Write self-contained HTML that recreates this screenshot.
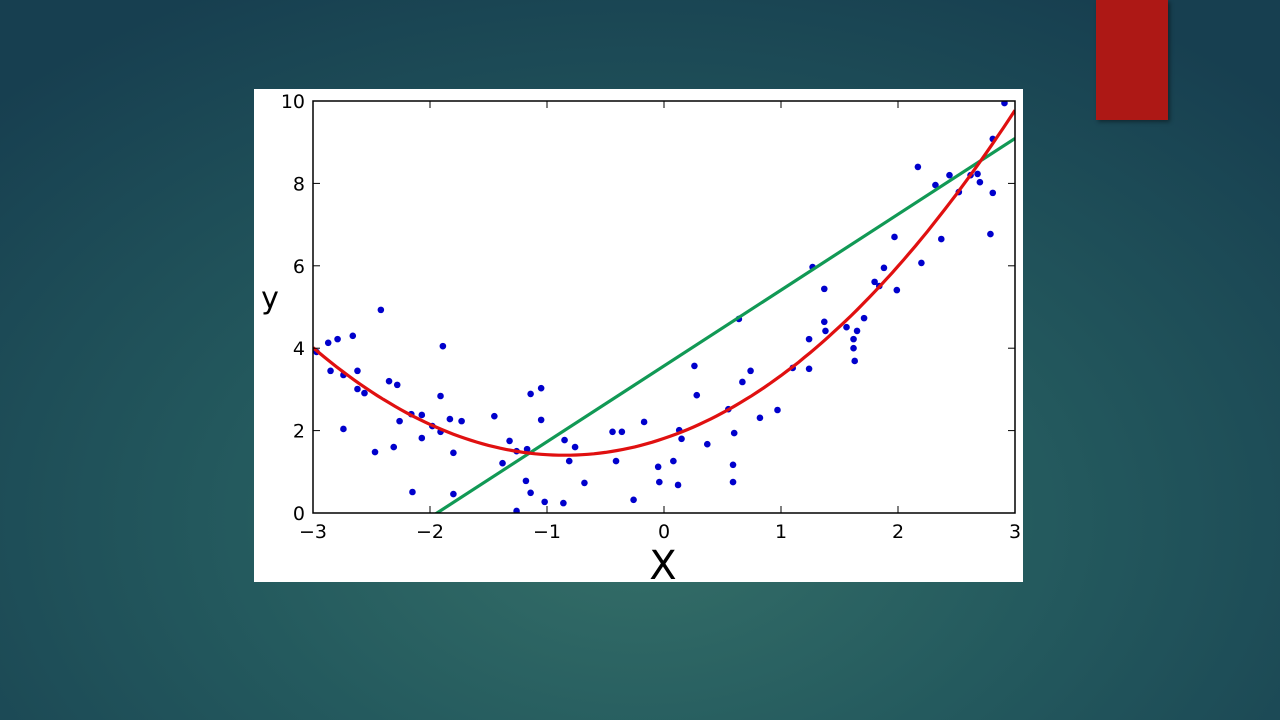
<!DOCTYPE html>
<html><head><meta charset="utf-8">
<style>
html,body{margin:0;padding:0;width:1280px;height:720px;overflow:hidden}
body{background:radial-gradient(ellipse 900px 600px at 640px 520px,#356f68 0%,#245a5e 45%,#173f50 100%);position:relative;font-family:"DejaVu Sans","Liberation Sans",sans-serif}
#redbox{position:absolute;left:1096px;top:0;width:72px;height:120px;background:#ad1815;box-shadow:2px 2px 4px rgba(0,0,0,.4)}
#card{position:absolute;left:254px;top:89px;width:769px;height:493px;background:#fff}
svg{position:absolute;left:0;top:0}
</style></head><body>
<div id="redbox"></div>
<div id="card"></div>
<svg id="chart" width="1280" height="720"></svg>
<script>
const xs=[-2.97,-2.87,-2.85,-2.79,-2.74,-2.74,-2.66,-2.62,-2.62,-2.56,-2.47,-2.42,-2.35,-2.28,-2.31,-2.26,-2.16,-2.15,-2.07,-2.07,-1.98,-1.91,-1.91,-1.89,-1.83,-1.80,-1.80,-1.73,-1.45,-1.38,-1.32,-1.26,-1.17,-1.26,-1.18,-1.14,-1.14,-1.05,-1.05,-1.02,-0.85,-0.76,-0.81,-0.68,-0.86,-0.44,-0.36,-0.41,-0.26,-0.17,-0.05,-0.04,0.08,0.12,0.13,0.15,0.26,0.28,0.37,0.55,0.59,0.59,0.60,0.64,0.67,0.74,0.82,0.97,1.10,1.24,1.24,1.27,1.37,1.37,1.38,1.56,1.62,1.62,1.63,1.65,1.71,1.80,1.84,1.88,1.99,1.97,2.17,2.20,2.32,2.37,2.44,2.52,2.62,2.68,2.70,2.81,2.79,2.81,2.91];
const ys=[3.91,4.13,3.45,4.22,2.04,3.35,4.30,3.45,3.01,2.91,1.48,4.93,3.20,3.11,1.60,2.23,2.40,0.51,2.38,1.82,2.11,1.97,2.84,4.05,2.28,1.46,0.46,2.23,2.35,1.21,1.75,1.50,1.55,0.05,0.78,2.89,0.49,3.03,2.26,0.27,1.77,1.60,1.26,0.73,0.24,1.97,1.97,1.26,0.32,2.21,1.12,0.75,1.26,0.68,2.01,1.80,3.57,2.86,1.67,2.52,1.17,0.75,1.94,4.71,3.18,3.45,2.31,2.50,3.52,4.22,3.50,5.97,5.44,4.64,4.42,4.51,4.22,4.00,3.69,4.42,4.73,5.61,5.51,5.95,5.41,6.70,8.40,6.07,7.96,6.65,8.20,7.79,8.20,8.23,8.03,7.77,6.77,9.08,9.95];
const linCoef=[3.57,1.84];
const quadCoef=[1.81,0.96,0.565];
const xTicks=[-3,-2,-1,0,1,2,3];
const yTicks=[0,2,4,6,8,10];
const xTickLabels=["\u22123","\u22122","\u22121","0","1","2","3"];
const yTickLabels=["0","2","4","6","8","10"];

const L=313,R=1015,T=101,B=513;
const sx=v=>L+(v+3)/6*(R-L);
const sy=v=>B-v/10*(B-T);
const svg=document.getElementById('chart');
const NS='http://www.w3.org/2000/svg';
function mk(tag,attrs){const e=document.createElementNS(NS,tag);for(const k in attrs)e.setAttribute(k,attrs[k]);svg.appendChild(e);return e;}

const clip=document.createElementNS(NS,'clipPath');clip.setAttribute('id','pc');
const cr=document.createElementNS(NS,'rect');cr.setAttribute('x',L);cr.setAttribute('y',T);cr.setAttribute('width',R-L);cr.setAttribute('height',B-T);
clip.appendChild(cr);svg.appendChild(clip);

for(let i=0;i<xs.length;i++){
 const c=mk('circle',{cx:sx(xs[i]),cy:sy(ys[i]),r:3.3,fill:'#0000cc','clip-path':'url(#pc)'});
 
 
}
// linear fit
let x0=-3,x1=3;
const gl=mk('line',{x1:sx(x0),y1:sy(linCoef[0]+linCoef[1]*x0),x2:sx(x1),y2:sy(linCoef[0]+linCoef[1]*x1),stroke:'#119955','stroke-width':3.2,'clip-path':'url(#pc)'});


// quadratic fit
let d='';
for(let i=0;i<=120;i++){const x=-3+6*i/120;const y=quadCoef[0]+quadCoef[1]*x+quadCoef[2]*x*x;d+=(i?'L':'M')+sx(x).toFixed(1)+','+sy(y).toFixed(1);}
const ql=mk('path',{d:d,fill:'none',stroke:'#e01010','stroke-width':3.2,'clip-path':'url(#pc)'});



const fr=mk('rect',{x:L,y:T,width:R-L,height:B-T,fill:'none',stroke:'#000','stroke-width':1.5});



xTicks.forEach((v,i)=>{
 mk('line',{x1:sx(v),y1:B,x2:sx(v),y2:B-7,stroke:'#000','stroke-width':1});
 mk('line',{x1:sx(v),y1:T,x2:sx(v),y2:T+7,stroke:'#000','stroke-width':1});
 const t=mk('text',{x:sx(v),y:B+25,'text-anchor':'middle','font-size':19,fill:'#000'});
 t.textContent=xTickLabels[i];
 
 
});
yTicks.forEach((v,i)=>{
 mk('line',{x1:L,y1:sy(v),x2:L+7,y2:sy(v),stroke:'#000','stroke-width':1});
 mk('line',{x1:R,y1:sy(v),x2:R-7,y2:sy(v),stroke:'#000','stroke-width':1});
 const t=mk('text',{x:L-8,y:sy(v)+7,'text-anchor':'end','font-size':19,fill:'#000'});
 t.textContent=yTickLabels[i];
 
 
});
const xt=mk('text',{x:663,y:579,'text-anchor':'middle','font-size':40,fill:'#000'});
xt.textContent='X';


const yt=mk('text',{x:270,y:308,'text-anchor':'middle','font-size':30,fill:'#000'});
yt.textContent='y';


</script>
</body></html>
